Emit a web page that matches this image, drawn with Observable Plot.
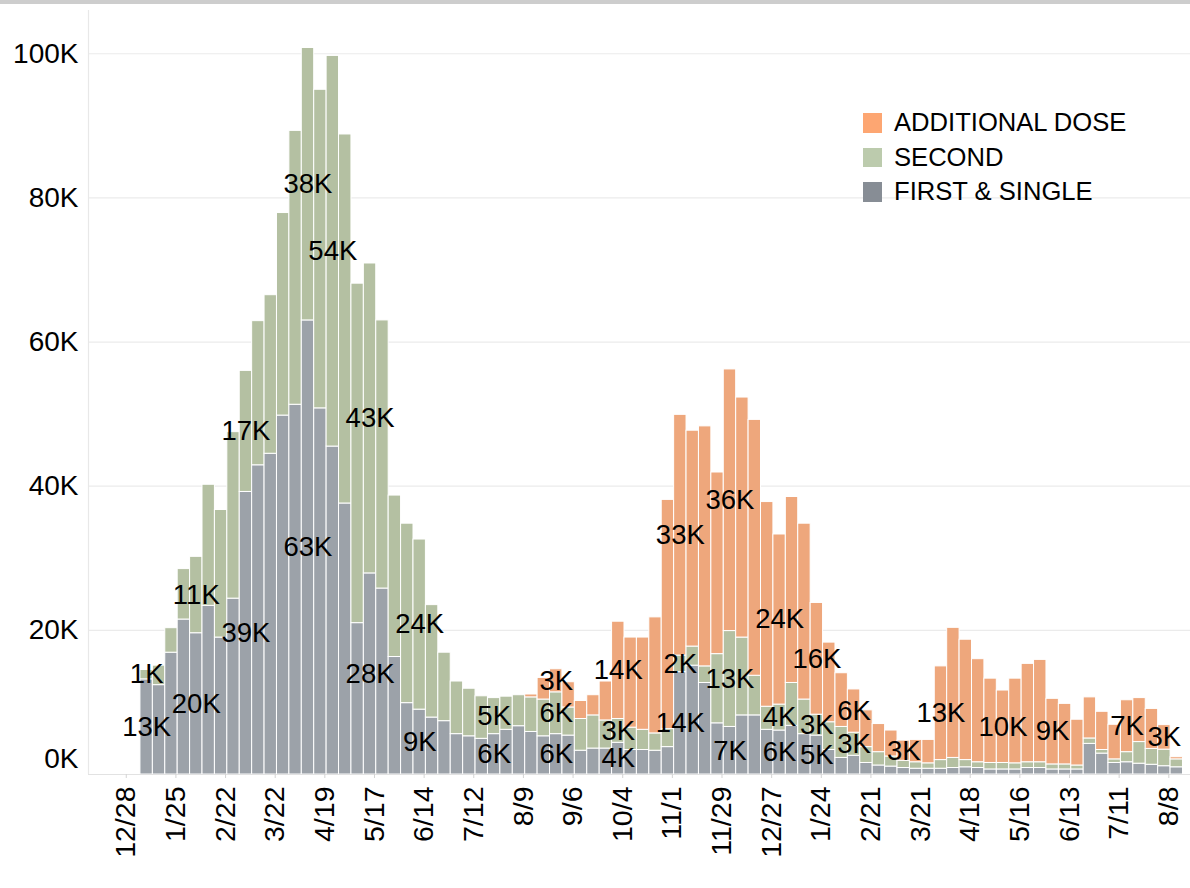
<!DOCTYPE html>
<html><head><meta charset="utf-8">
<script src="https://cdn.jsdelivr.net/npm/d3@7"></script>
<script src="https://cdn.jsdelivr.net/npm/@observablehq/plot@0.6"></script>
<style>
html,body{margin:0;padding:0;background:#fff;}
#wrap{position:relative;width:1190px;height:888px;overflow:hidden;font-family:"Liberation Sans",Arial,sans-serif;}
#chart{position:absolute;left:0;top:0;}
#topbar{position:absolute;left:0;top:0;width:1190px;height:3.5px;background:#cdcdcd;}
#legend{position:absolute;left:862.5px;top:105.5px;}
.row{display:flex;align-items:center;height:34.5px;font-size:25.6px;color:#000;white-space:nowrap;}
.sw{width:19.5px;height:19.5px;margin-right:12px;flex:none;}
</style></head><body>
<div id="wrap"><div id="chart"></div><div id="topbar"></div><div id="legend"></div></div>
<script>
// Weekly doses, in thousands (weeks starting Tue 2021-01-05)
const firstDose = [13.2,12.4,16.9,21.5,19.6,23.4,19.0,24.4,39.2,42.9,44.5,49.8,51.3,63.0,50.8,45.5,37.6,21.0,27.9,25.8,
  16.3,9.9,9.0,7.9,7.4,5.6,5.3,4.95,5.6,6.2,6.7,5.9,5.3,5.6,5.4,3.3,3.6,3.6,4.4,3.4,
  3.4,3.3,3.8,14.2,15.1,12.7,7.1,6.6,8.2,8.2,6.2,6.1,6.75,5.6,5.4,3.4,2.3,2.6,1.6,1.25,
  1.1,0.9,0.8,0.8,0.8,0.9,1.0,0.9,0.7,0.7,0.7,0.9,0.9,0.7,0.7,0.7,4.25,2.9,1.6,1.7,
  1.5,1.35,1.15,1.0];
const secondDose = [1.3,2.7,3.4,7.0,10.6,16.8,17.7,23.1,16.8,20.0,22.0,28.1,38.0,37.8,44.2,54.2,51.2,47.1,43.0,37.2,
  22.4,24.9,23.6,15.6,9.5,7.3,6.6,5.9,5.0,4.6,4.3,4.8,5.1,5.8,3.9,4.4,4.6,3.9,3.3,3.1,
  2.8,2.4,2.5,2.3,2.65,2.3,9.6,13.3,10.8,5.5,3.2,3.6,5.95,4.8,2.9,3.85,4.3,3.2,2.2,1.85,
  1.4,1.0,0.9,0.75,1.2,1.4,1.0,0.8,0.9,0.9,0.85,0.8,0.8,0.7,0.7,0.55,0.75,0.5,0.5,1.4,
  3.0,2.2,2.3,1.1];
const additionalDose = [0,0,0,0,0,0,0,0,0,0,0,0,0,0,0,0,0,0,0,0,
  0,0,0,0,0,0,0,0,0,0,0,0.4,3.0,3.2,3.5,2.5,2.8,5.4,13.5,12.5,
  12.8,16.1,31.8,33.4,29.95,33.3,25.2,36.3,33.3,35.5,28.4,23.6,25.8,24.4,15.5,11.05,7.45,6.0,5.1,3.9,
  3.6,2.8,3.1,3.25,13.0,18.05,16.7,14.3,11.7,10.05,11.75,13.65,14.2,9.1,8.4,6.35,5.7,5.3,4.8,7.2,
  6.1,5.55,3.4,0.3];

const seriesKeys = ["first", "second", "additional"];
const seriesNames = {first: "FIRST & SINGLE", second: "SECOND", additional: "ADDITIONAL DOSE"};
const barColors = {first: "#9ca2a9", second: "#b4c0a2", additional: "#eea77c"};
const legendColors = {first: "#878d95", second: "#bccbad", additional: "#fda672"};
const legendOrder = ["additional", "second", "first"];

const firstWeekStart = Date.UTC(2021, 0, 5);
const tickStart = Date.UTC(2020, 11, 28);
const tickCount = 22;          // every 4 weeks
const yTicks = [0, 20, 40, 60, 80, 100];

// value labels: bar number (1-based), segment, text
const labelBars   = [1,1, 5,5, 9,9, 14,14, 16, 19,19, 23,23, 29,29, 34,34,34, 39,39,39, 44,44,44, 48,48,48, 52,52,52, 55,55,55, 58,58, 62, 65, 70, 74, 80, 83];
const labelSeries = ["first","second","first","second","first","second","first","second","second","first","second","first","second","first","second",
  "first","second","additional","first","second","additional","first","second","additional","first","second","additional",
  "first","second","additional","first","second","additional","second","additional","additional","additional","additional","additional","additional","additional"];
const labelTexts  = ["13K","1K","20K","11K","39K","17K","63K","38K","54K","28K","43K","9K","24K","6K","5K",
  "6K","6K","3K","4K","3K","14K","14K","2K","33K","7K","13K","36K","6K","4K","24K","5K","3K","16K","3K","6K","3K","13K","10K","9K","7K","3K"];

const DAY = 864e5;
const values = {first: firstDose, second: secondDose, additional: additionalDose};
const rects = [];
const segs = {};
firstDose.forEach((_, i) => {
  const start = new Date(firstWeekStart + i * 7 * DAY);
  const end = new Date(firstWeekStart + (i + 1) * 7 * DAY);
  let base = 0;
  for (const k of seriesKeys) {
    const v = values[k][i];
    const r = {x1: start, x2: end, y1: base, y2: base + v, key: k, mid: new Date(firstWeekStart + (i + 0.5) * 7 * DAY)};
    segs[(i + 1) + k] = r;
    if (v > 0) rects.push(r);
    base += v;
  }
});
const labels = labelBars.map((b, j) => {
  const s = segs[b + labelSeries[j]];
  return {x: s.mid, y: (s.y1 + s.y2) / 2, text: labelTexts[j]};
});
const xTicks = d3.range(tickCount).map(i => new Date(tickStart + i * 28 * DAY));
const xDomain = [new Date(tickStart - 21.3 * DAY), new Date(xTicks[tickCount - 1].getTime() + 12.24 * DAY)];

const chart = Plot.plot({
  width: 1190, height: 888,
  marginLeft: 88, marginRight: 0, marginTop: 10, marginBottom: 114,
  style: {fontFamily: "'Liberation Sans', Arial, sans-serif", background: "transparent", color: "#000", overflow: "visible"},
  x: {type: "utc", domain: xDomain},
  y: {domain: [0, 106]},
  marks: [
    Plot.gridY(yTicks, {stroke: "#ebebeb", strokeOpacity: 1, strokeWidth: 1.2}),
    Plot.ruleX([xDomain[0]], {stroke: "#e8e8e8", strokeWidth: 1.2}),
    Plot.rect(rects, {x1: "x1", x2: "x2", y1: "y1", y2: "y2", fill: d => barColors[d.key], stroke: "#ffffff", strokeWidth: 1}),
    Plot.ruleY([0], {stroke: "#e2e2e2", strokeWidth: 1.2}),
    Plot.axisY(yTicks.filter(t => t > 0), {tickFormat: d => d + "K", tickSize: 0, tickPadding: 10, fontSize: 28, fill: "#000"}),
    Plot.axisY(yTicks.filter(t => t === 0), {tickFormat: d => d + "K", tickSize: 0, tickPadding: 10, fontSize: 28, fill: "#000", dy: -15}),
    Plot.axisX(xTicks, {tickFormat: d3.utcFormat("%-m/%-d"), tickRotate: -90, tickSize: 4, tickPadding: 8, fontSize: 28.5, stroke: "#d4d4d4", fill: "#000"}),
    Plot.text(labels, {x: "x", y: "y", text: "text", fontSize: 27.5, fill: "#000"})
  ]
});
document.getElementById("chart").appendChild(chart);

const legend = document.getElementById("legend");
for (const k of legendOrder) {
  const row = document.createElement("div");
  row.className = "row";
  const sw = document.createElement("div");
  sw.className = "sw";
  sw.style.background = legendColors[k];
  const tx = document.createElement("span");
  tx.textContent = seriesNames[k];
  row.appendChild(sw); row.appendChild(tx);
  legend.appendChild(row);
}
</script>
</body></html>
